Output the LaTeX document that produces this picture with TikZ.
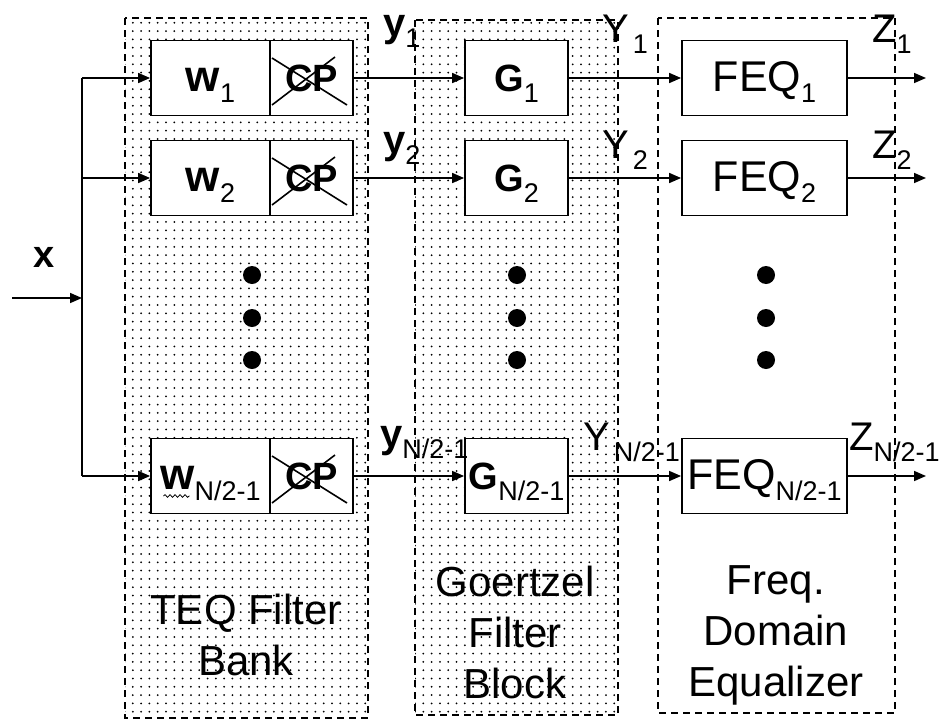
\documentclass[tikz,border=0pt]{standalone}
\usepackage{fontspec}
\setmainfont{Liberation Sans}
\usetikzlibrary{arrows.meta,patterns.meta,decorations.pathmorphing}
\newcommand{\lsub}[1]{\raisebox{-11pt}{\fontsize{27}{28}\selectfont #1}}
\begin{document}
\begin{tikzpicture}[x=1pt,y=-1pt,
  frame/.style={draw, line width=1.6pt, dash pattern=on 7pt off 5pt},
  dotfill/.style={pattern={Dots[distance=8.3pt,radius=1pt]}},
  blk/.style={draw, fill=white, line width=1.8pt, minimum height=75pt, inner sep=0pt, text height=27pt, text depth=1pt},
  sig/.style={-{Triangle[length=12pt,width=10pt]}, line width=1.6pt},
  wire/.style={line width=1.6pt},
  lbl/.style={anchor=base west, inner sep=0pt, font=\fontsize{40}{44}\selectfont},
  bigdot/.style={circle, fill, inner sep=0pt, minimum size=18pt},
  caption/.style={align=center, anchor=base, inner sep=0pt, font=\fontsize{42}{51}\selectfont},
  xline/.style={line width=1.6pt}
]
\useasboundingbox (0,0) rectangle (941,720);
% group frames
\path[dotfill] (125,18) rectangle (368,718);
\path[frame] (125,18) rectangle (368,718);
\path[dotfill] (415,20) rectangle (618,715);
\path[frame] (415,20) rectangle (618,715);
\path[frame] (658,18) rectangle (895,713);

% TEQ filter blocks
\node[blk, minimum width=119pt, font=\fontsize{44}{48}\selectfont] (w1) at (210.5,78) {\textbf{w}\lsub{1}};
\node[blk, minimum width=83pt, font=\fontsize{38}{42}\bfseries] (cp1) at (311.5,78) {CP};
\node[blk, minimum width=119pt, font=\fontsize{44}{48}\selectfont] (w2) at (210.5,178) {\textbf{w}\lsub{2}};
\node[blk, minimum width=83pt, font=\fontsize{38}{42}\bfseries] (cp2) at (311.5,178) {CP};
\node[blk, minimum width=119pt, font=\fontsize{44}{48}\selectfont] (wN) at (210.5,476) {\textbf{w}\lsub{N/2-1}};
\node[blk, minimum width=83pt, font=\fontsize{38}{42}\bfseries] (cpN) at (311.5,476) {CP};
\foreach \c in {cp1,cp2,cpN}{
  \draw[xline] ([shift={(-39.5,-20)}]\c.center) -- ([shift={(35.5,27)}]\c.center);
  \draw[xline] ([shift={(-39.5,27)}]\c.center) -- ([shift={(23.5,-21)}]\c.center);
}
\draw[line width=0.8pt, decorate, decoration={snake, amplitude=1.3pt, segment length=5pt}]
  ([shift={(-47,20)}]wN.center) -- ([shift={(-21,20)}]wN.center);

% Goertzel blocks
\node[blk, minimum width=103pt, font=\fontsize{38}{42}\selectfont] (g1) at (516.5,78) {\textbf{G}\lsub{1}};
\node[blk, minimum width=103pt, font=\fontsize{38}{42}\selectfont] (g2) at (516.5,178) {\textbf{G}\lsub{2}};
\node[blk, minimum width=103pt, font=\fontsize{38}{42}\selectfont] (gN) at (516.5,476) {\textbf{G}\lsub{N/2-1}};

% FEQ blocks
\node[blk, minimum width=165pt, font=\fontsize{43}{46}\selectfont] (f1) at (764.5,78) {FEQ\lsub{1}};
\node[blk, minimum width=165pt, font=\fontsize{43}{46}\selectfont] (f2) at (764.5,178) {FEQ\lsub{2}};
\node[blk, minimum width=165pt, font=\fontsize{43}{46}\selectfont] (fN) at (764.5,476) {FEQ\lsub{N/2-1}};

% input
\coordinate (xin) at (12,298);
\coordinate (br) at (82,298);
\coordinate (b1) at (82,78);
\coordinate (b2) at (82,178);
\coordinate (bN) at (82,476);
\draw[sig] (xin) -- (br);
\draw[wire] (b1) -- (bN);
\draw[sig] (b1) -- (w1.west);
\draw[sig] (b2) -- (w2.west);
\draw[sig] (bN) -- (wN.west);
\node[lbl, font=\fontsize{38}{42}\bfseries] (xl) at (33,267) {x};

% TEQ -> Goertzel
\draw[sig] (cp1.east) -- (g1.west);
\draw[sig] (cp2.east) -- (g2.west);
\draw[sig] (cpN.east) -- (gN.west);
% Goertzel -> FEQ
\draw[sig] (g1.east) -- (f1.west);
\draw[sig] (g2.east) -- (f2.west);
\draw[sig] (gN.east) -- (fN.west);
% outputs
\coordinate (z1) at (926,78);
\coordinate (z2) at (926,178);
\coordinate (zN) at (926,476);
\draw[sig] (f1.east) -- (z1);
\draw[sig] (f2.east) -- (z2);
\draw[sig] (fN.east) -- (zN);

% signal labels
\node[lbl] (ly1) at (383,36) {\textbf{y}\lsub{1}};
\node[lbl] (ly2) at (383,153) {\textbf{y}\lsub{2}};
\node[lbl] (lyN) at (380,447) {\textbf{y}\lsub{N/2-1}};
\node[lbl] (lY1) at (602,42) {Y\kern4pt\lsub{1}};
\node[lbl] (lY2) at (602,158) {Y\kern4pt\lsub{2}};
\node[lbl] (lYN) at (583,450) {Y\kern4pt\lsub{N/2-1}};
\node[lbl] (lZ1) at (872,42) {Z\lsub{1}};
\node[lbl] (lZ2) at (872,158) {Z\lsub{2}};
\node[lbl] (lZN) at (849,450) {Z\lsub{N/2-1}};

% continuation dots
\foreach \yy [count=\i] in {275,318,360}{
  \node[bigdot] (dw\i) at (252,\yy) {};
  \node[bigdot] (dg\i) at (517,\yy) {};
  \node[bigdot] (df\i) at (766,\yy) {};
}

% captions (base = last line's baseline)
\node[caption] (cteq) at (246,675) {TEQ Filter\\Bank};
\node[caption] (cgoe) at (515,698) {Goertzel\\Filter\\Block};
\node[caption] (cfeq) at (776,696) {Freq.\\Domain\\Equalizer};
\end{tikzpicture}
\end{document}
